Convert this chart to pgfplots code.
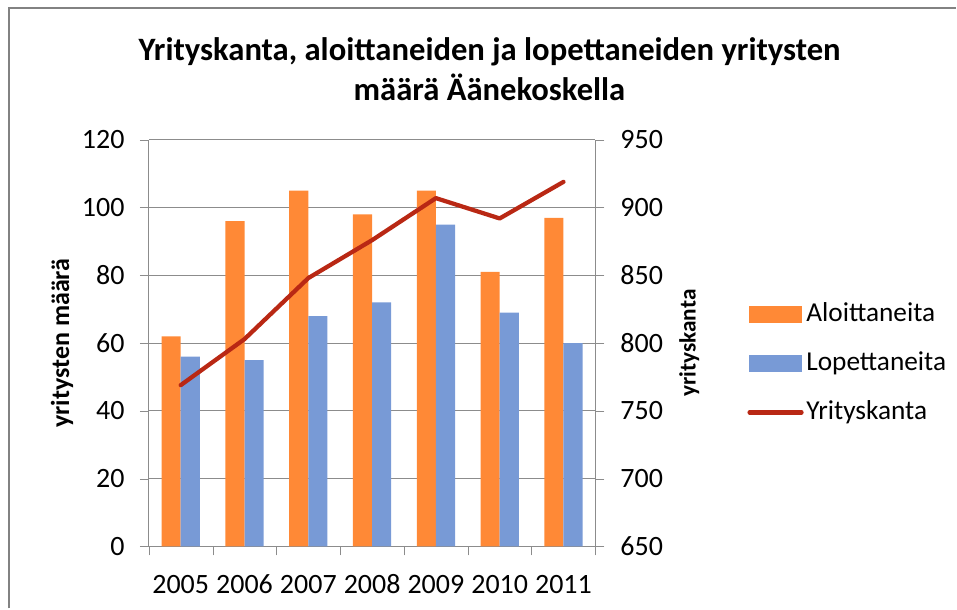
\documentclass[border=0pt]{standalone}
\usepackage{fontspec}
\setmainfont{Carlito}
\usepackage{pgfplots}
\pgfplotsset{compat=1.18}
\definecolor{aloit}{RGB}{255,137,54}
\definecolor{lopet}{RGB}{120,154,214}
\definecolor{kanta}{RGB}{185,40,20}
\definecolor{akseli}{RGB}{140,140,140}
\definecolor{kehys}{RGB}{130,130,130}

\begin{document}
\begin{tikzpicture}
\path (0pt,0pt) rectangle (717.75pt,456.75pt);
\draw[kehys,line width=1.5pt] (6.75pt,0pt) |- (717.75pt,450.75pt);
\node[font=\fontsize{24.5}{30}\selectfont\bfseries,align=center] at (367.5pt,404.75pt)
  {Yrityskanta, aloittaneiden ja lopettaneiden yritysten\\määrä Äänekoskella};

\begin{axis}[
  at={(111.75pt,46.5pt)}, anchor=south west,
  scale only axis, width=335.25pt, height=305.25pt,
  xmin=-0.5, xmax=6.5, ymin=0, ymax=120,
  ytick={0,20,...,120},
  xtick={0,...,6},
  xticklabels={2005,2006,2007,2008,2009,2010,2011},
  minor xtick={-0.5,0.5,...,6.5},
  major x tick style={draw=none},
  minor x tick style={draw=akseli},
  minor tick length=6.75pt,
  major tick length=6.75pt,
  tick align=outside,
  axis x line*=bottom, axis y line*=left,
  axis line style={akseli,line width=0.8pt},
  ytick style={akseli},
  ymajorgrids, grid style={akseli,line width=0.8pt},
  tick label style={font=\fontsize{21}{24}\selectfont},
  yticklabel style={xshift=-8pt},
  xticklabel style={yshift=-11pt,text height=14pt,text depth=0pt},
  /pgf/number format/assume math mode=true,
  ylabel={\bfseries yritysten määrä},
  ylabel style={font=\fontsize{19.5}{22}\selectfont,
    at={(axis description cs:-0.1946,0.5)},anchor=center},
  bar width=0.3,
]
\addplot[ybar,fill=aloit,draw=none,bar shift=-0.15] coordinates
  {(0,62) (1,96) (2,105) (3,98) (4,105) (5,81) (6,97)};
\addplot[ybar,fill=lopet,draw=none,bar shift=0.15] coordinates
  {(0,56) (1,55) (2,68) (3,72) (4,95) (5,69) (6,60)};
\end{axis}

\begin{axis}[
  at={(111.75pt,46.5pt)}, anchor=south west,
  scale only axis, width=335.25pt, height=305.25pt,
  xmin=-0.5, xmax=6.5, ymin=650, ymax=950,
  ytick={650,700,...,950},
  axis y line*=right, hide x axis,
  axis line style={akseli,line width=0.8pt},
  ytick style={akseli},
  major tick length=6.75pt, tick align=outside,
  tick label style={font=\fontsize{21}{24}\selectfont},
  yticklabel style={xshift=8.5pt},
  /pgf/number format/assume math mode=true,
  ylabel={\bfseries yrityskanta},
  ylabel style={font=\fontsize{17.5}{22}\selectfont,
    at={(axis description cs:1.2103,0.5)},anchor=center},
  legend style={at={(1.34,0.45)},anchor=west,draw=none,fill=none,
    inner sep=0pt,row sep=14.75pt,font=\fontsize{20.5}{24}\selectfont,
    nodes={inner sep=2pt,text height=14pt,text depth=4pt}},
  legend cell align=left,
]
\addlegendimage{legend image code/.code={\fill[aloit] (0pt,-6pt) rectangle (39pt,6pt);}}
\addlegendentry{Aloittaneita}
\addlegendimage{legend image code/.code={\fill[lopet] (0pt,-6pt) rectangle (39pt,6pt);}}
\addlegendentry{Lopettaneita}
\addplot[kanta,line width=3.2pt,line cap=round,line join=round,
  legend image code/.code={\draw[kanta,line width=3.2pt,line cap=round] (0pt,0pt) -- (39pt,0pt);}] coordinates
  {(0,769) (1,803) (2,848) (3,876) (4,907) (5,892) (6,919)};
\addlegendentry{Yrityskanta}
\end{axis}
\end{tikzpicture}
\end{document}
